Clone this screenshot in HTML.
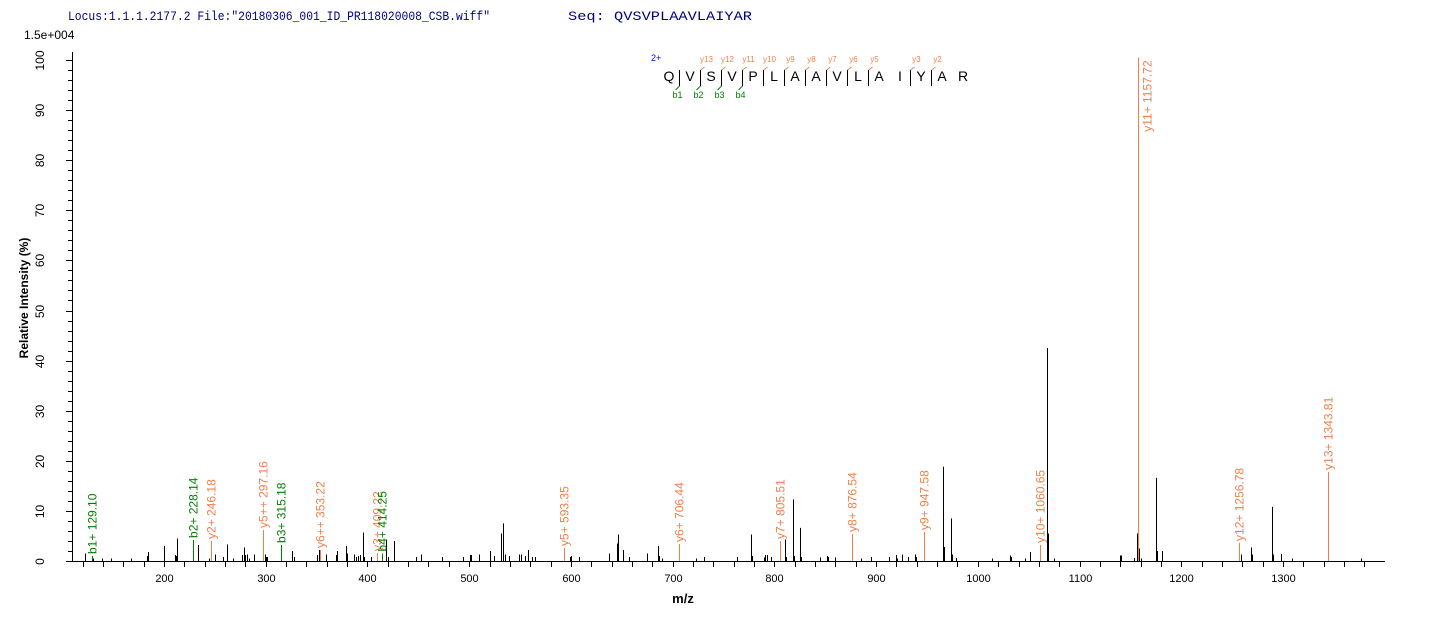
<!DOCTYPE html>
<html><head><meta charset="utf-8"><style>
body{margin:0;background:#fff;width:1436px;height:620px;overflow:hidden}
svg{display:block}
text{font-family:"Liberation Sans",Arial,sans-serif}
</style></head><body>
<svg id="s" width="1436" height="620" xmlns="http://www.w3.org/2000/svg">
<text x="68" y="20" font-size="12.5" fill="#000080" textLength="422" lengthAdjust="spacingAndGlyphs" style="font-family:'Liberation Mono',monospace">Locus:1.1.1.2177.2 File:"20180306_001_ID_PR118020008_CSB.wiff"</text>
<text x="568" y="20" font-size="12.5" fill="#000080" textLength="184" lengthAdjust="spacingAndGlyphs" style="font-family:'Liberation Mono',monospace">Seq: QVSVPLAAVLAIYAR</text>
<text x="24" y="39" font-size="12" fill="#000">1.5e+004</text>
<text transform="translate(28,298) rotate(-90)" text-anchor="middle" font-size="12" font-weight="bold">Relative   Intensity (%)</text>
<text x="683" y="603" text-anchor="middle" font-size="13" font-weight="bold">m/z</text>
<g id="g"></g>
</svg>
<script>
const NS="http://www.w3.org/2000/svg",g=document.getElementById('g');
const X=m=>164+(m-200)*1.01727, Y=i=>561-i*5.01;
function el(t,a,txt){const e=document.createElementNS(NS,t);for(const k in a)e.setAttribute(k,a[k]);if(txt)e.textContent=txt;g.appendChild(e);return e;}
function ln(x1,y1,x2,y2,c,w){el('line',{x1,y1,x2,y2,stroke:c||'#000','stroke-width':w||1});}
ln(72.5,52,72.5,561.5);ln(72,561.5,1385,561.5);
for(let i=0;i<=100;i+=2){const y=Math.round(Y(i))+.5;ln(i%10==0?66:68,y,72,y);
 if(i%10==0)el('text',{transform:`translate(44,${y}) rotate(-90)`,'text-anchor':'middle','font-size':12},String(i));}
for(let m=120;m<=1380;m+=20){const x=Math.round(X(m))+.5;ln(x,561,x,567);
 if(m%100==0)el('text',{x:x,y:582,'text-anchor':'middle','font-size':11},String(m));}
const pk=[[122,1.5],[130,.5],[139,.5],[148,.5],[168,.5],[183,1],[184,1.8],[200,3],[211,1.2],[212,1],[213,4.5],[233,3.2],[244,.5],[250,1.3],[258,.8],[262,3.3],[268,.5],[277,1.2],[279,2.7],[280,1.2],[282,1.3],[284,.5],[288,1.3],[299,1.3],[300,.8],[301,.8],[326,2],[328,.8],[350,1.2],[352,2.2],[359,1.3],[369,1.2],[370,2],[379,3],[380,1.5],[387,1.3],[389,.8],[391,1],[393,1.2],[396,5.7],[397,.8],[403,.8],[418,4.3],[420,.8],[426,4],[448,.8],[453,1.3],[473,.8],[494,.8],[501,1.2],[502,1.2],[510,1.3],[520,2],[524,1],[531,5.5],[533,7.5],[535,1.3],[539,1],[549,1.3],[551,1.3],[555,1],[558,2.2],[562,.8],[565,.8],[599,.8],[600,1],[608,.8],[637,1.5],[645,3.5],[646,5.3],[651,2.2],[657,.8],[675,1.5],[686,3],[687,1],[690,.5],[723,.5],[731,.8],[763,.8],[777,5.3],[778,1],[790,.7],[791,1.2],[793,1.2],[797,.8],[810,4.3],[811,.8],[818,12.3],[819,1],[825,6.6],[826,.8],[845,.7],[852,1],[853,.8],[860,.7],[885,.5],[895,.8],[913,.8],[920,1.2],[921,.5],[925,1.3],[931,.8],[938,1.3],[939,.8],[947,2.8],[966,18.8],[967,2.8],[974,8.5],[975,1.3],[979,.6],[1014,.5],[1032,1.1],[1033,.8],[1046,.5],[1051,1.8],[1068,42.5],[1069,5.5],[1075,.5],[1140,1.1],[1141,1.1],[1154,.6],[1156,5.5],[1158,2.5],[1160,.5],[1175,16.6],[1176,2],[1181,2],[1259,1.3],[1269,2.7],[1270,1.3],[1289,10.8],[1290,1.3],[1298,1.4],[1309,.5],[1344,.8],[1377,.5]];
pk.forEach(([m,i])=>{const x=Math.round(X(m))+.5;ln(x,561,x,Y(i));});
const O='#f0804a',G='#008000';
const an=[[129.10,1,'b1+ 129.10',G],[228.14,4.2,'b2+ 228.14',G],[246.18,4,'y2+ 246.18',O],[297.16,6.2,'y5++ 297.16',O],[315.18,3.2,'b3+ 315.18',G],[353.22,2.2,'y6++ 353.22',O],[409.22,1.6,'y3+ 409.22',O],[414.25,1.5,'b4+ 414.25',G],[593.35,2.6,'y5+ 593.35',O],[706.44,3.4,'y6+ 706.44',O],[805.51,4,'y7+ 805.51',O],[876.54,5.4,'y8+ 876.54',O],[947.58,5.8,'y9+ 947.58',O],[1060.65,3.2,'y10+ 1060.65',O],[1157.72,100.5,'y11+ 1157.72',O],[1256.78,3.6,'y12+ 1256.78',O],[1343.81,17.8,'y13+ 1343.81',O]];
an.forEach(([m,i,t,c])=>{const x=Math.round(X(m))+.5,y=Y(i);ln(x,561,x,y,c);
 if(i>90){el('text',{transform:`translate(${x+13},${y+3}) rotate(-90)`,'text-anchor':'end','font-size':12,fill:c},t);}
 else el('text',{transform:`translate(${x+4},${y-2}) rotate(-90)`,'text-anchor':'start','font-size':12,fill:c},t);});
const seq='QVSVPLAAVLAIYAR';
for(let k=0;k<seq.length;k++)el('text',{x:669+k*21,y:81,'text-anchor':'middle','font-size':14},seq[k]);
el('text',{x:651,y:61,'font-size':9,fill:'#0000c0'},'2+');
const ylab={2:'y13',3:'y12',4:'y11',5:'y10',6:'y9',7:'y8',8:'y7',9:'y6',10:'y5',12:'y3',13:'y2'};
for(const k in ylab){const x=669+(k-0.5)*21;ln(x,70,x,86);ln(x,70,x+4,67,O);
 el('text',{x:x+6,y:62,'text-anchor':'middle','font-size':8,fill:O},ylab[k]);}
ln(679.5,70,679.5,86);
const bl={1:'b1',2:'b2',3:'b3',4:'b4'};
for(const k in bl){const x=669+(k-0.5)*21;ln(x,86,x-4,90,G);
 el('text',{x:x-2,y:98,'text-anchor':'middle','font-size':9,fill:G},bl[k]);}
</script>
</body></html>
